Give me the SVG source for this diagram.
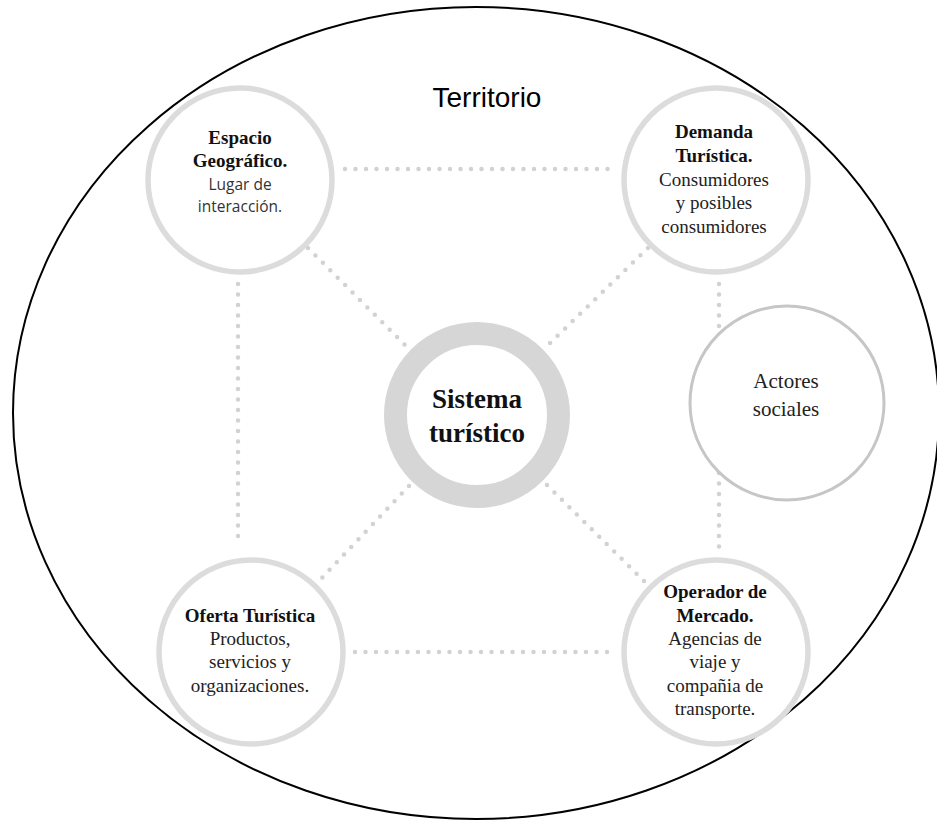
<svg xmlns="http://www.w3.org/2000/svg" width="937" height="821" viewBox="0 0 937 821">
<style>
.ring{fill:#fff;stroke:#dcdcdc;stroke-width:5.5}
.ring2{fill:#fff;stroke:#c6c6c6;stroke-width:3}
.core{fill:#fff;stroke:#d6d6d6;stroke-width:23}
.dots{fill:none;stroke:#d2d2d2;stroke-width:4.5;stroke-linecap:round;stroke-dasharray:0 10.5}
.t{font-family:"Liberation Serif","Times New Roman",serif;font-size:19px;text-anchor:middle;fill:#222}
.b{font-weight:bold;fill:#111}
.s{font-family:"Open Sans","Noto Sans",sans-serif;font-size:15.5px;fill:#333}
.big{font-size:27px}
.terr{font-family:"Liberation Sans",Arial,sans-serif;font-size:28px;text-anchor:middle;fill:#000}
</style>
<g id="territorio">
<ellipse cx="476" cy="413" rx="463" ry="406" fill="none" stroke="#000" stroke-width="2"/>
<text class="terr" x="487" y="107">Territorio</text>
</g>
<g id="connectors">
<line class="dots" x1="345" y1="169" x2="615" y2="169"/>
<line class="dots" x1="355" y1="652" x2="615" y2="652"/>
<line class="dots" x1="238" y1="284" x2="238" y2="546"/>
<line class="dots" x1="719" y1="284" x2="719" y2="548"/>
<line class="dots" x1="308" y1="248" x2="406" y2="346"/>
<line class="dots" x1="648" y1="248" x2="547" y2="346"/>
<line class="dots" x1="409" y1="486" x2="319" y2="581"/>
<line class="dots" x1="547" y1="485" x2="646" y2="583"/>
</g>
<g id="espacio">
<circle class="ring" cx="240" cy="180" r="92"/>
<text class="t b" x="240" y="144">Espacio</text>
<text class="t b" x="240" y="167">Geográfico.</text>
<text class="t s" x="240" y="190">Lugar de</text>
<text class="t s" x="240" y="211.5">interacción.</text>
</g>
<g id="demanda">
<circle class="ring" cx="716" cy="180" r="92"/>
<text class="t b" x="714" y="138">Demanda</text>
<text class="t b" x="714" y="162">Turística.</text>
<text class="t" x="714" y="186">Consumidores</text>
<text class="t" x="714" y="209">y posibles</text>
<text class="t" x="714" y="233">consumidores</text>
</g>
<g id="sistema">
<circle class="core" cx="477" cy="415" r="81.5"/>
<text class="t b big" x="477" y="408">Sistema</text>
<text class="t b big" x="477" y="442">turístico</text>
</g>
<g id="actores">
<circle class="ring2" cx="787" cy="403" r="97"/>
<text class="t" x="786" y="388" style="font-size:21px">Actores</text>
<text class="t" x="786" y="416" style="font-size:21px">sociales</text>
</g>
<g id="oferta">
<circle class="ring" cx="251" cy="652" r="92"/>
<text class="t b" x="250" y="622">Oferta Turística</text>
<text class="t" x="250" y="645">Productos,</text>
<text class="t" x="250" y="668">servicios y</text>
<text class="t" x="250" y="692">organizaciones.</text>
</g>
<g id="operador">
<circle class="ring" cx="716" cy="652" r="92"/>
<text class="t b" x="715" y="598">Operador de</text>
<text class="t b" x="715" y="622">Mercado.</text>
<text class="t" x="715" y="645">Agencias de</text>
<text class="t" x="715" y="668">viaje y</text>
<text class="t" x="715" y="692">compañia de</text>
<text class="t" x="715" y="715">transporte.</text>
</g>
</svg>
